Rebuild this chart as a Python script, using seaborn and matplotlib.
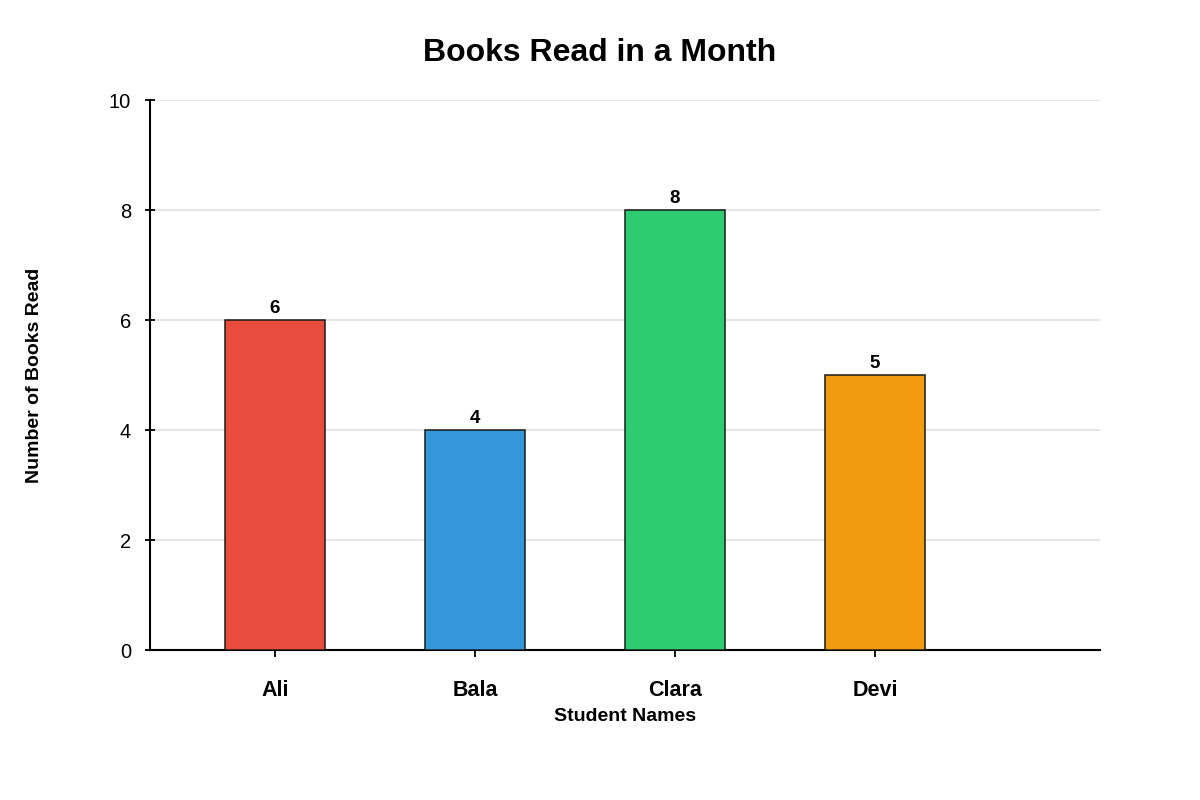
import matplotlib
matplotlib.use("Agg")
import matplotlib.pyplot as plt
import seaborn as sns
import pandas as pd

# --- Data ---
students = ["Ali", "Bala", "Clara", "Devi"]
books_read = [6, 4, 8, 5]
bar_colors = ["#e74c3c", "#3498db", "#2ecc71", "#f39c12"]
y_ticks = [0, 2, 4, 6, 8, 10]

df = pd.DataFrame({"student": students, "books": books_read})

# --- Style ---
sns.set_style("white")
plt.rcParams["font.family"] = ["Liberation Sans", "DejaVu Sans"]
plt.rcParams["text.color"] = "black"
plt.rcParams["axes.labelcolor"] = "black"

fig = plt.figure(figsize=(12, 8), dpi=100)
ax = fig.add_axes([0.125, 0.1875, 0.7917, 0.6875])

sns.barplot(data=df, x="student", y="books", hue="student", palette=bar_colors,
            saturation=1, width=0.5, edgecolor="#1a1a1a", linewidth=1.1,
            legend=False, zorder=3, ax=ax)

# value labels on top of each bar
for container in ax.containers:
    ax.bar_label(container, padding=2, fontsize=13.5, fontweight="bold",
                 color="black")

ax.set_xlim(-0.625, 4.125)
ax.set_ylim(0, 10)
ax.set_yticks(y_ticks)
ax.yaxis.grid(True, color="#e0e0e0", linewidth=1.2, zorder=0)
ax.set_axisbelow(True)

for side in ["top", "right"]:
    ax.spines[side].set_visible(False)
for side in ["left", "bottom"]:
    ax.spines[side].set_color("black")
    ax.spines[side].set_linewidth(1.5)

ax.tick_params(axis="y", left=True, direction="inout", length=7, width=1.3,
               pad=10, labelsize=14.5, colors="black")
ax.tick_params(axis="x", bottom=True, direction="out", length=5, width=1.3,
               pad=16.5, labelsize=15.5, colors="black")
for lbl in ax.get_xticklabels():
    lbl.set_fontweight("bold")

ax.set_xlabel("Student Names", fontsize=14, fontweight="bold", labelpad=5)
ax.set_ylabel("Number of Books Read", fontsize=14, fontweight="bold")
ax.yaxis.set_label_coords(-0.113, 0.5)

ax.set_title("Books Read in a Month", fontsize=23, fontweight="bold",
             x=0.4737, pad=28, color="black")

fig.savefig("out.png", dpi=100)
